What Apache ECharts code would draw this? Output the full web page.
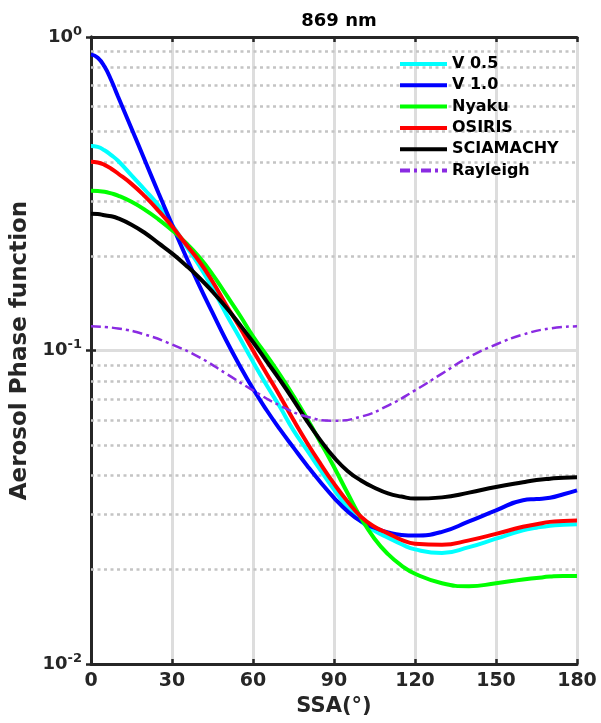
<!DOCTYPE html>
<html>
<head>
<meta charset="utf-8">
<script src="https://cdn.jsdelivr.net/npm/echarts@6/dist/echarts.min.js"></script>
<style>
html,body{margin:0;padding:0;background:#fff;}
#chart{width:601px;height:723px;}
</style>
</head>
<body>
<div id="chart"></div>
<script>
// ---- data ----
const ssa = [0,2.5,5,7.5,10,15,20,25,30,35,40,45,50,55,60,65,70,75,80,85,90,95,100,105,110,115,120,130,140,150,160,165,170,175,180];
const v05 = [0.449,0.446,0.435,0.42,0.403,0.362,0.325,0.29,0.252,0.217,0.187,0.158,0.131,0.11,0.092,0.0776,0.066,0.0556,0.0481,0.0415,0.036,0.0316,0.0285,0.0266,0.0253,0.0241,0.0232,0.0226,0.0236,0.0251,0.0267,0.0272,0.0276,0.0278,0.0279];
const v10 = [0.88,0.859,0.805,0.728,0.646,0.511,0.403,0.318,0.252,0.201,0.162,0.132,0.108,0.0897,0.0755,0.0646,0.056,0.049,0.043,0.038,0.0339,0.0307,0.0285,0.0272,0.0263,0.0258,0.0257,0.0264,0.0285,0.0309,0.0333,0.0336,0.0339,0.0348,0.0358];
const nyaku = [0.323,0.3225,0.321,0.317,0.312,0.298,0.281,0.262,0.242,0.221,0.199,0.175,0.151,0.13,0.111,0.0966,0.0836,0.0716,0.0607,0.0509,0.0425,0.0351,0.0292,0.0251,0.0224,0.0206,0.0194,0.0181,0.0177,0.0181,0.0186,0.0188,0.019,0.0191,0.0191];
const osiris = [0.40,0.398,0.391,0.38,0.367,0.34,0.31,0.279,0.249,0.219,0.193,0.166,0.14,0.119,0.1,0.0845,0.0715,0.06,0.0508,0.0435,0.0376,0.033,0.0295,0.0274,0.0261,0.0249,0.0242,0.024,0.0248,0.026,0.0274,0.0279,0.0284,0.0286,0.0287];
const sciamachy = [0.273,0.2725,0.27,0.268,0.264,0.252,0.237,0.22,0.204,0.1875,0.171,0.154,0.1374,0.1213,0.1064,0.0925,0.0805,0.0695,0.0595,0.0517,0.0456,0.0413,0.0385,0.0365,0.035,0.0342,0.0337,0.034,0.0352,0.0367,0.038,0.0386,0.039,0.0393,0.0394];
const rayAngles = [0,10,20,30,40,50,60,70,80,90,100,110,120,130,140,150,160,170,180];
const rayleigh = [0.1194,0.1176,0.1124,0.1045,0.0953,0.0844,0.0746,0.0667,0.0615,0.0597,0.0615,0.0667,0.0746,0.0844,0.0953,0.1045,0.1124,0.1176,0.1194];
const seriesNames = ['V 0.5','V 1.0','Nyaku','OSIRIS','SCIAMACHY','Rayleigh'];
const xTicks = [0,30,60,90,120,150,180];
const minorGrid = [0.02,0.03,0.04,0.05,0.06,0.07,0.08,0.09,0.2,0.3,0.4,0.5,0.6,0.7,0.8,0.9];
const titleText = '869 nm';
const xName = 'SSA(°)';
const yName = 'Aerosol Phase function';

// ---- chart ----
const FONT = 'DejaVu Sans';
const INK = '#262626';
const chart = echarts.init(document.getElementById('chart'), null, {renderer:'canvas'});
const pair = (xs, ys) => xs.map((x,i)=>[x, ys[i]]);
const colors = ['#00FFFF','#0000FF','#00FF00','#FF0000','#000000','#8A2BE2'];
const datasets = [v05, v10, nyaku, osiris, sciamachy];

const curveSeries = datasets.map((d,i)=>({
  name: seriesNames[i], type:'line', data: pair(ssa, d), smooth: 0.5,
  symbol:'none', xAxisIndex:0, yAxisIndex:0, z:3,
  lineStyle:{color:colors[i], width:4}, itemStyle:{color:colors[i]}
}));
curveSeries.push({
  name: seriesNames[5], type:'line', data: pair(rayAngles, rayleigh), smooth: 0.5,
  symbol:'none', xAxisIndex:0, yAxisIndex:0, z:4,
  lineStyle:{color:colors[5], width:2.5, type:[10,4,3,4]}, itemStyle:{color:colors[5]}
});

const option = {
  backgroundColor:'#ffffff',
  animation:false,
  title:{text:titleText, left:334, top:7, textAlign:'center',
    textStyle:{fontFamily:FONT, fontWeight:'bold', fontSize:18, color:'#000'}},
  grid:{left:91, right:24, top:37, bottom:59, show:false, outerBoundsMode:'none', containLabel:false},
  legend:{
    orient:'vertical', left:398, top:56, padding:0, itemWidth:47, itemHeight:14, itemGap:5.3,
    z:10,
    data: seriesNames,
    itemStyle:{opacity:0},
    lineStyle:{width:4},
    textStyle:{fontFamily:FONT, fontWeight:'bold', fontSize:16, lineHeight:16, color:'#000'}
  },
  xAxis:[{
    type:'value', min:0, max:180, interval:30, position:'bottom',
    name:xName, nameLocation:'middle', nameGap:31,
    nameTextStyle:{fontFamily:FONT, fontWeight:'bold', fontSize:21, color:INK},
    axisLine:{show:true, lineStyle:{color:INK, width:3}},
    axisTick:{show:true, inside:true, length:5, lineStyle:{color:INK, width:2.5}},
    axisLabel:{fontFamily:FONT, fontWeight:'bold', fontSize:19, color:INK, margin:8,
      customValues: xTicks},
    splitLine:{show:true, lineStyle:{color:'#dddddd', width:3}}
  },{
    type:'value', min:0, max:180, interval:30, position:'top',
    axisLine:{show:true, lineStyle:{color:INK, width:3}},
    axisTick:{show:true, inside:true, length:5, lineStyle:{color:INK, width:2.5}},
    axisLabel:{show:false}, splitLine:{show:false}
  }],
  yAxis:[{
    type:'log', logBase:10, min:0.01, max:1, position:'left',
    name:yName, nameLocation:'middle', nameGap:51,
    nameTextStyle:{fontFamily:FONT, fontWeight:'bold', fontSize:23, color:INK},
    axisLine:{show:true, lineStyle:{color:INK, width:3}},
    axisTick:{show:true, inside:true, length:5, lineStyle:{color:INK, width:2.5}},
    axisLabel:{margin:9,
      formatter:(v)=>{ const e = Math.round(Math.log10(v)); return '{b|10}{s|'+e+'}'; },
      rich:{
        b:{fontFamily:FONT, fontWeight:'bold', fontSize:18, color:INK},
        s:{fontFamily:FONT, fontWeight:'bold', fontSize:13, color:INK, padding:[0,0,11,0]}
      }},
    splitLine:{show:true, lineStyle:{color:'#dddddd', width:3}}
  },{
    type:'log', logBase:10, min:0.01, max:1, position:'right',
    axisLine:{show:true, lineStyle:{color:INK, width:3}},
    axisTick:{show:true, inside:true, length:5, lineStyle:{color:INK, width:2.5}},
    axisLabel:{show:false}, splitLine:{show:false}
  }],
  series:[{
    type:'line', data:[], xAxisIndex:0, yAxisIndex:0, z:1, silent:true,
    markLine:{silent:true, z:1, symbol:['none','none'], label:{show:false},
      lineStyle:{color:'#c4c4c4', width:2.5, type:[3,3.5]},
      emphasis:{disabled:true},
      data: minorGrid.map(v=>({yAxis:v}))}
  }].concat(curveSeries)
};
chart.setOption(option);
</script>
</body>
</html>
